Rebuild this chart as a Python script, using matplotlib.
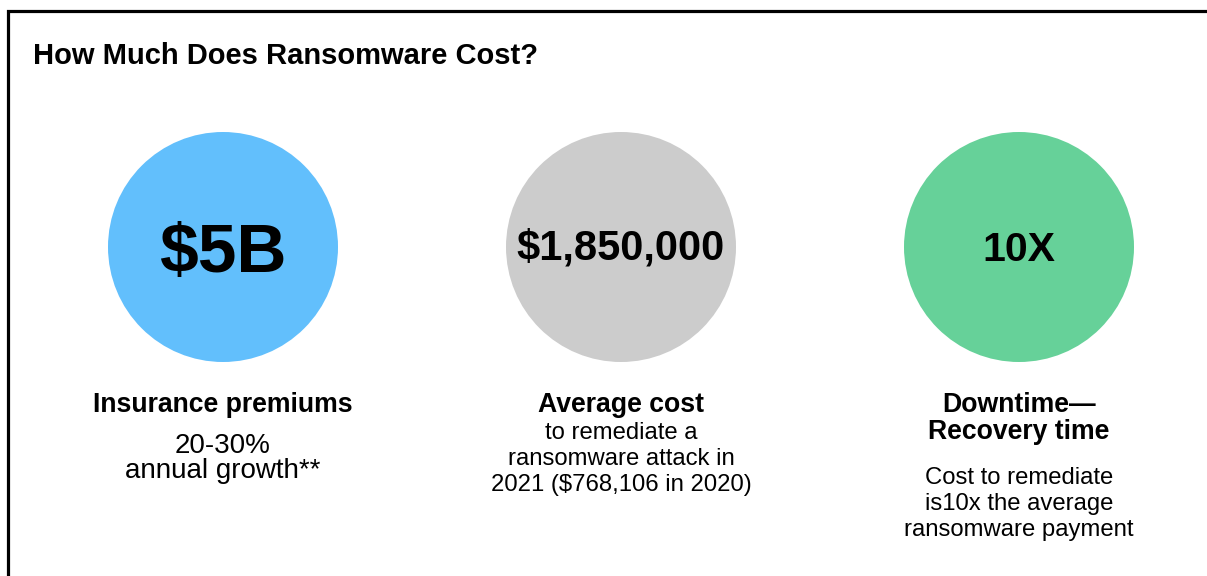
import matplotlib.pyplot as plt
from matplotlib.patches import Circle

plt.rcParams['font.family'] = ['Liberation Sans', 'DejaVu Sans']

# chart content
title = 'How Much Does Ransomware Cost?'
big_numbers = ['$5B', '$1,850,000', '10X']
headings = [['Insurance premiums'],
            ['Average cost'],
            ['Downtime\u2014', 'Recovery time']]
details = [['20-30%', 'annual growth**'],
           ['to remediate a', 'ransomware attack in', '2021 ($768,106 in 2020)'],
           ['Cost to remediate', 'is10x the average', 'ransomware payment']]
colors = ['#62bffc', '#cccccc', '#66d199']

# layout (pixels, y grows downward)
centers_x = [223, 621, 1019]
center_y = 247
radius = 115
number_sizes = [50, 30, 29.5]
number_base = [272, 259, 261]
detail_sizes = [20, 17.2, 17.2]
detail_first = [443, 430, 475]   # centre of first detail line
detail_step = [25, 26, 26]
heading_first = 402
heading_step = 27

fig = plt.figure(figsize=(12.07, 5.76), dpi=100)
ax = fig.add_axes([0, 0, 1, 1])
ax.set_xlim(0, 1207)
ax.set_ylim(576, 0)
ax.axis('off')

# frame (cropped: only left and top edges visible)
ax.plot([8, 8, 1207], [576, 11, 11], color='black', lw=2.3, solid_joinstyle='miter')

ax.text(33, 64, title, fontsize=21, fontweight='bold', ha='left', va='baseline')


def px(pt):
    return pt * 100 / 72.0


for i in range(3):
    cx = centers_x[i]
    ax.add_patch(Circle((cx, center_y), radius, color=colors[i], lw=0))
    ax.text(cx, number_base[i], big_numbers[i], fontsize=number_sizes[i],
            fontweight='bold', ha='center', va='baseline')
    for j, line in enumerate(headings[i]):
        y = heading_first + j * heading_step + 0.36 * px(19.2)
        ax.text(cx, y, line, fontsize=19.2, fontweight='bold', ha='center', va='baseline')
    for j, line in enumerate(details[i]):
        y = detail_first[i] + j * detail_step[i] + 0.36 * px(detail_sizes[i])
        ax.text(cx, y, line, fontsize=detail_sizes[i], ha='center', va='baseline')

fig.savefig('out.png', dpi=100)
